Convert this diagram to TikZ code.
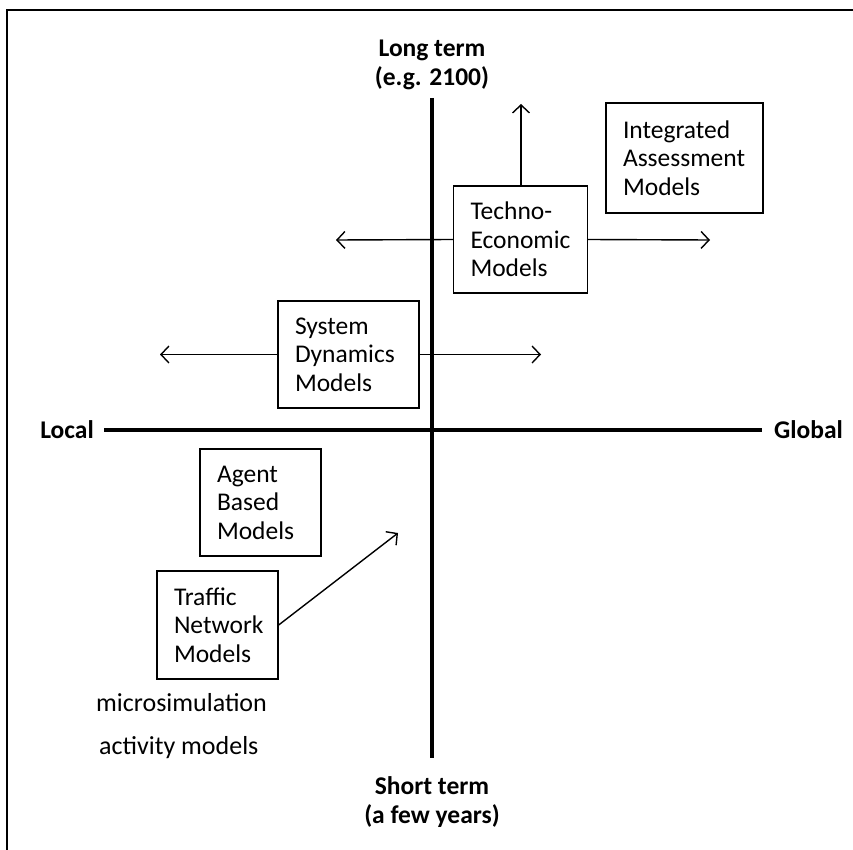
\documentclass[tikz,border=0pt]{standalone}
\usepackage{fontspec}
\setmainfont{Carlito}
\usetikzlibrary{arrows.meta}
\begin{document}
\begin{tikzpicture}[x=1pt,y=-1pt,
  model/.style={draw,line width=1.3pt,inner xsep=17pt,inner ysep=0pt,align=left,
    font=\fontsize{25.5}{28.5}\selectfont},
  axis/.style={line width=3.5pt},
  flow/.style={line width=1.4pt,-{Straight Barb[length=8pt,width=17pt,line width=1.4pt]}},
  axlabel/.style={font=\bfseries\fontsize{25.5}{29}\selectfont,align=center,inner sep=0pt},
  note/.style={font=\fontsize{26}{28}\selectfont,inner sep=0pt}]
\useasboundingbox (0,0) rectangle (853,850);
% page frame
\draw[line width=2pt] (7,850) -- (7,10) -- (853,10);

% axes
\coordinate (top) at (432,98);
\coordinate (bottom) at (432,758);
\coordinate (left) at (104,430);
\coordinate (right) at (762,430);
\draw[axis] (top) -- (bottom);
\draw[axis] (left) -- (right);

\node[axlabel,anchor=south] (long) at (432,90) {Long term\\(e.g. 2100)};
\node[axlabel,anchor=north] (short) at (432,776) {Short term\\(a few years)};
\node[axlabel,anchor=east] (local) at (94,430) {Local};
\node[axlabel,anchor=west] (global) at (774,430) {Global};

% model boxes
\node[model,text width=123pt,minimum height=110pt] (iam) at (684.5,158) {Integrated\\Assessment\\Models};
\node[model,text width=100pt,minimum height=107pt] (tem) at (520.5,239.5) {Techno-\\Economic\\Models};
\node[model,text width=107pt,minimum height=107pt] (sdm) at (348.5,354.5) {System\\Dynamics\\Models};
\node[model,text width=87pt,minimum height=107pt] (abm) at (260.5,502.5) {Agent\\Based\\Models};
\node[model,text width=87pt,minimum height=108pt] (tnm) at (217.5,625) {Traffic\\Network\\Models};

\node[note,anchor=west] (micro) at (96,703) {microsimulation};
\node[note,anchor=west] (activity) at (99,748) {activity models};

% directions of extension
\coordinate (temup) at (521,104);
\coordinate (temleft) at (336,240);
\coordinate (temright) at (710,240);
\coordinate (sdmleft) at (160,354.5);
\coordinate (sdmright) at (541,354.5);
\coordinate (tnmup) at (398,533);

\draw[flow] (tem.north -| temup) -- (temup);
\draw[flow] (tem.west) -- (temleft);
\draw[flow] (tem.east) -- (temright);
\draw[flow] (sdm.west) -- (sdmleft);
\draw[flow] (sdm.east) -- (sdmright);
\draw[flow] (tnm.east) -- (tnmup);
\end{tikzpicture}
\end{document}
